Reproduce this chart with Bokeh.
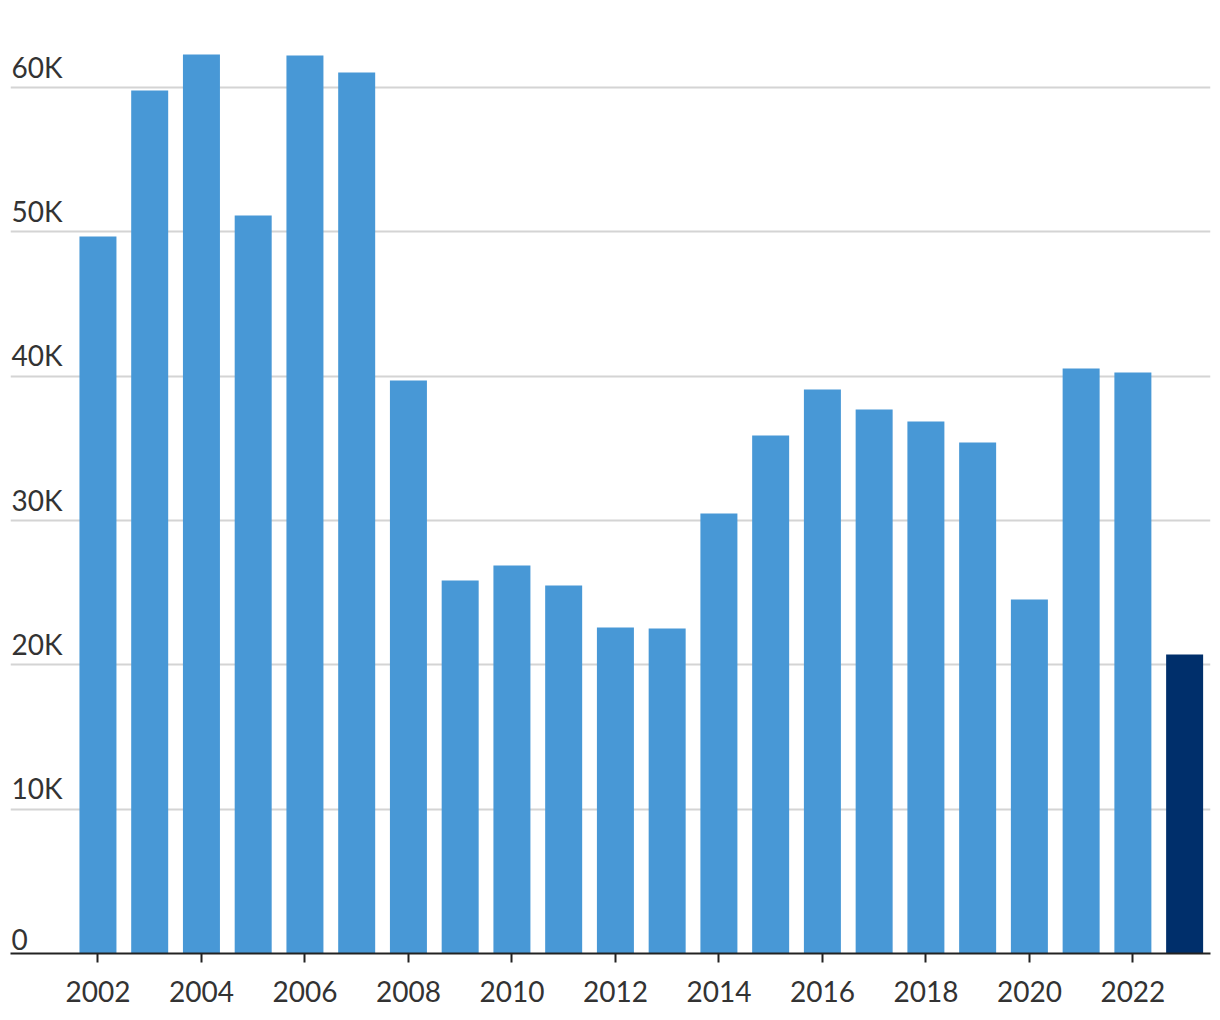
from bokeh.plotting import figure
from bokeh.models import FixedTicker, Range1d, ColumnDataSource
from bokeh.core.properties import value
from bokeh.embed import file_html
from bokeh.resources import INLINE

years = list(range(2002, 2024))
counts = [49680, 59790, 62290, 51130, 62220, 61040, 39700, 25840, 26880, 25500,
          22590, 22520, 30490, 35890, 39080, 37690, 36860, 35410, 24530, 40530,
          40260, 20720]
bar_colors = ["#4898d6"] * 21 + ["#002f6b"]
y_ticks = [0, 10000, 20000, 30000, 40000, 50000, 60000]
y_tick_labels = ["0", "10K", "20K", "30K", "40K", "50K", "60K"]
x_ticks = list(range(2002, 2023, 2))

FONT = "Lato"
x0 = 2000.31

p = figure(width=1220, height=1020, output_backend="svg", toolbar_location=None,
           x_range=Range1d(x0, 2023.5), y_range=Range1d(0, 66030),
           min_border_left=10, min_border_right=10, min_border_top=0,
           min_border_bottom=67)
p.outline_line_color = None
p.background_fill_color = "white"
p.border_fill_color = "white"

src = ColumnDataSource(dict(x=years, top=counts, color=bar_colors))
p.vbar(x="x", top="top", width=0.715, bottom=0, color="color", source=src,
       line_color=None)

p.yaxis.visible = False
p.ygrid.ticker = FixedTicker(ticks=y_ticks)
p.ygrid.grid_line_color = "#d4d4d4"
p.ygrid.grid_line_width = 2
p.xgrid.visible = False

lab = ColumnDataSource(dict(x=[x0 + 0.02] * len(y_ticks), y=y_ticks, t=y_tick_labels))
p.text(x="x", y="y", text="t", source=lab, text_font=value(FONT),
       text_font_size="28px", text_color="#333333", text_baseline="bottom",
       text_align="left", y_offset=-4)

xa = p.xaxis[0]
xa.ticker = FixedTicker(ticks=x_ticks)
xa.axis_line_color = "#222222"
xa.axis_line_width = 2
xa.major_tick_line_color = "#222222"
xa.major_tick_line_width = 2
xa.major_tick_in = 0
xa.major_tick_out = 9
xa.minor_tick_line_color = None
xa.major_label_text_font = FONT
xa.major_label_text_font_size = "28px"
xa.major_label_text_color = "#333333"
xa.major_label_standoff = 18

open("out.html", "w").write(file_html(p, INLINE))
